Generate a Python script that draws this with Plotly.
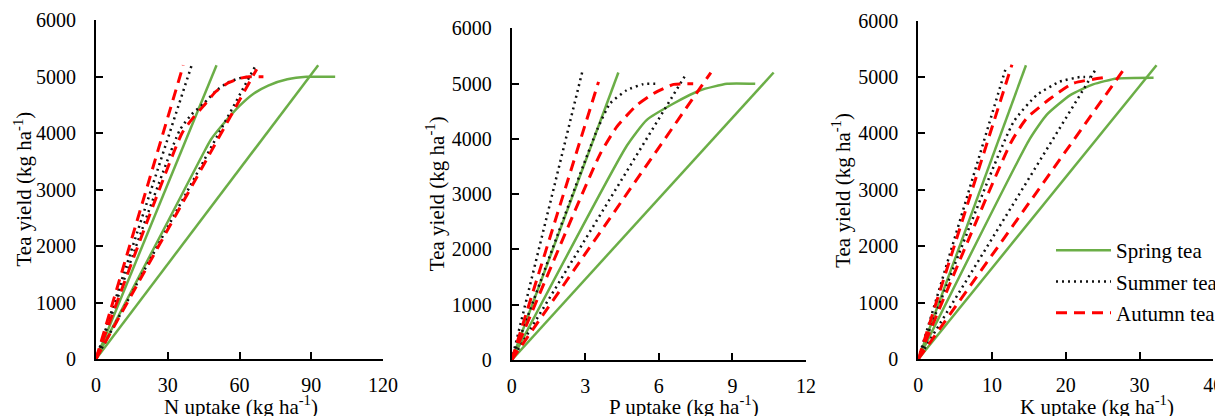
import plotly.graph_objects as go

# ---------------- data ----------------
seasons = ["Spring tea", "Summer tea", "Autumn tea"]

# N uptake panel (kg ha-1) vs tea yield (kg ha-1)
n_spring_dil_x = [0, 50.4];  n_spring_dil_y = [0, 5200]
n_spring_acc_x = [0, 92.9];  n_spring_acc_y = [0, 5200]
n_spring_bal_x = [0, 30, 45, 48, 53, 60, 66, 72, 80, 88, 100]
n_spring_bal_y = [0, 2430, 3650, 3880, 4150, 4480, 4700, 4840, 4950, 4995, 4995]
n_summer_dil_x = [0, 40.0];  n_summer_dil_y = [0, 5200]
n_summer_acc_x = [0, 66.5];  n_summer_acc_y = [0, 5175]
n_summer_bal_x = [0, 35, 40, 45, 50, 55, 60, 65]
n_summer_bal_y = [0, 4050, 4330, 4520, 4740, 4890, 4970, 5000]
n_autumn_dil_x = [0, 36.5];  n_autumn_dil_y = [0, 5200]
n_autumn_acc_x = [0, 67.2];  n_autumn_acc_y = [0, 5130]
n_autumn_bal_x = [0, 36, 41, 45, 50, 55, 60, 64, 70]
n_autumn_bal_y = [0, 4000, 4290, 4480, 4730, 4880, 4966, 4995, 4995]

# P uptake panel
p_spring_dil_x = [0, 4.35];  p_spring_dil_y = [0, 5200]
p_spring_acc_x = [0, 10.68]; p_spring_acc_y = [0, 5200]
p_spring_bal_x = [0, 4.7, 5.5, 6.6, 7.69, 8.78, 9.93]
p_spring_bal_y = [0, 3880, 4340, 4640, 4880, 4995, 4995]
p_summer_dil_x = [0, 2.87];  p_summer_dil_y = [0, 5200]
p_summer_acc_x = [0, 7.08];  p_summer_acc_y = [0, 5150]
p_summer_bal_x = [0, 3.47, 4.01, 4.69, 5.37, 5.98]
p_summer_bal_y = [0, 4150, 4640, 4880, 4990, 4995]
p_autumn_dil_x = [0, 3.54];  p_autumn_dil_y = [0, 5030]
p_autumn_acc_x = [0, 8.12];  p_autumn_acc_y = [0, 5200]
p_autumn_bal_x = [0, 3.6, 4.29, 5.1, 5.78, 6.6, 7.4]
p_autumn_bal_y = [0, 3720, 4220, 4610, 4820, 4985, 4995]

# K uptake panel
k_spring_dil_x = [0, 14.6];  k_spring_dil_y = [0, 5210]
k_spring_acc_x = [0, 32.3];  k_spring_acc_y = [0, 5210]
k_spring_bal_x = [0, 15.1, 17.4, 20.6, 23.7, 26.9, 31.9]
k_spring_bal_y = [0, 3900, 4330, 4680, 4870, 4975, 4990]
k_summer_dil_x = [0, 11.8];  k_summer_dil_y = [0, 5130]
k_summer_acc_x = [0, 24.0];  k_summer_acc_y = [0, 5125]
k_summer_bal_x = [0, 12.9, 16.05, 19.2, 21.9, 23.3]
k_summer_bal_y = [0, 4200, 4680, 4920, 5000, 5000]
k_autumn_dil_x = [0, 12.7];  k_autumn_dil_y = [0, 5220]
k_autumn_acc_x = [0, 27.8];  k_autumn_acc_y = [0, 5125]
k_autumn_bal_x = [0, 12.6, 14.7, 17.9, 21.0, 25.1]
k_autumn_bal_y = [0, 3850, 4270, 4620, 4890, 4990]

x_titles = ["N uptake (kg ha<sup>-1</sup>)", "P uptake (kg ha<sup>-1</sup>)", "K uptake (kg ha<sup>-1</sup>)"]
y_title = "Tea yield (kg ha<sup>-1</sup>)"
x_ranges = [[0, 120], [0, 12], [0, 40]]
x_dticks = [30, 3, 10]
y_tickvals = [0, 1000, 2000, 3000, 4000, 5000, 6000]

panels = [
    {"spring": [(n_spring_dil_x, n_spring_dil_y), (n_spring_bal_x, n_spring_bal_y), (n_spring_acc_x, n_spring_acc_y)],
     "summer": [(n_summer_dil_x, n_summer_dil_y), (n_summer_bal_x, n_summer_bal_y), (n_summer_acc_x, n_summer_acc_y)],
     "autumn": [(n_autumn_dil_x, n_autumn_dil_y), (n_autumn_bal_x, n_autumn_bal_y), (n_autumn_acc_x, n_autumn_acc_y)]},
    {"spring": [(p_spring_dil_x, p_spring_dil_y), (p_spring_bal_x, p_spring_bal_y), (p_spring_acc_x, p_spring_acc_y)],
     "summer": [(p_summer_dil_x, p_summer_dil_y), (p_summer_bal_x, p_summer_bal_y), (p_summer_acc_x, p_summer_acc_y)],
     "autumn": [(p_autumn_dil_x, p_autumn_dil_y), (p_autumn_bal_x, p_autumn_bal_y), (p_autumn_acc_x, p_autumn_acc_y)]},
    {"spring": [(k_spring_dil_x, k_spring_dil_y), (k_spring_bal_x, k_spring_bal_y), (k_spring_acc_x, k_spring_acc_y)],
     "summer": [(k_summer_dil_x, k_summer_dil_y), (k_summer_bal_x, k_summer_bal_y), (k_summer_acc_x, k_summer_acc_y)],
     "autumn": [(k_autumn_dil_x, k_autumn_dil_y), (k_autumn_bal_x, k_autumn_bal_y), (k_autumn_acc_x, k_autumn_acc_y)]},
]

# ---------------- styling ----------------
W, H = 1223, 416
OFF = 8  # page body margin offset (figure drawn 8px right/down in the window)
FONT = "Liberation Serif"
styles = {
    "spring": dict(color="#6BAE47", width=2.5, dash="solid"),
    "summer": dict(color="#111111", width=2.5, dash="2px,4px"),
    "autumn": dict(color="#FF0000", width=3, dash="11px,7px"),
}
season_keys = ["spring", "summer", "autumn"]


def fx(px):  # window pixel x -> paper fraction
    return (px - OFF) / W


def fy(py):  # window pixel y -> paper fraction
    return 1 - (py - OFF) / H


# plot-area boxes in window pixels (left, right, top, bottom)
boxes = [(96, 383, 20, 359), (511.7, 806, 28.3, 360), (918.3, 1213.3, 20.7, 359)]

fig = go.Figure()
for pi, panel in enumerate(panels):
    ax = "" if pi == 0 else str(pi + 1)
    for si, key in enumerate(season_keys):
        for li, (xs, ys) in enumerate(panel[key]):
            show = (pi == 2 and li == 0)
            fig.add_trace(go.Scatter(
                x=xs, y=ys, mode="lines",
                line=dict(color=styles[key]["color"], width=styles[key]["width"],
                          dash=styles[key]["dash"],
                          shape="spline" if li == 1 else "linear", smoothing=0.5),
                name=seasons[si], legendgroup=key, showlegend=show,
                xaxis="x" + ax, yaxis="y" + ax, hoverinfo="skip"))

layout = dict(
    width=W, height=H, paper_bgcolor="white", plot_bgcolor="white",
    margin=dict(l=0, r=0, t=0, b=0, pad=0, autoexpand=False),
    font=dict(family=FONT, size=20, color="black"),
    legend=dict(x=fx(1051), y=fy(230), xanchor="left", yanchor="top",
                font=dict(family=FONT, size=21, color="black"),
                bgcolor="rgba(0,0,0,0)", itemwidth=55, tracegroupgap=1),
)
annotations = []
for pi in range(3):
    l, r, t, b = boxes[pi]
    sfx = "" if pi == 0 else str(pi + 1)
    layout["xaxis" + sfx] = dict(
        domain=[fx(l), fx(r)], range=x_ranges[pi], dtick=x_dticks[pi], tick0=0,
        showline=True, linecolor="black", linewidth=2, ticks="inside", ticklen=7,
        tickwidth=2, tickcolor="black", showgrid=False, zeroline=False,
        anchor="y" + sfx, ticklabelstandoff=7, fixedrange=True, automargin=False,
        tickfont=dict(family=FONT, size=20))
    layout["yaxis" + sfx] = dict(
        domain=[fy(b), fy(t)], range=[0, 6000], tickvals=y_tickvals,
        showline=True, linecolor="black", linewidth=2, ticks="inside", ticklen=7,
        tickwidth=2, tickcolor="black", showgrid=False, zeroline=False,
        anchor="x" + sfx, ticklabelstandoff=14, fixedrange=True, automargin=False,
        tickfont=dict(family=FONT, size=20))

xt_centers = [241, 684, 1097]
yt_centers = [23, 435, 842]
for pi in range(3):
    l, r, t, b = boxes[pi]
    annotations.append(dict(text=x_titles[pi], x=fx(xt_centers[pi]), y=fy(405),
                            xref="paper", yref="paper", showarrow=False,
                            xanchor="center", yanchor="middle",
                            font=dict(family=FONT, size=21, color="black")))
    annotations.append(dict(text=y_title, x=fx(yt_centers[pi]), y=fy((t + b) / 2),
                            xref="paper", yref="paper", showarrow=False, textangle=-90,
                            xanchor="center", yanchor="middle",
                            font=dict(family=FONT, size=21, color="black")))
layout["annotations"] = annotations
fig.update_layout(**layout)
fig.write_html("out.html")
